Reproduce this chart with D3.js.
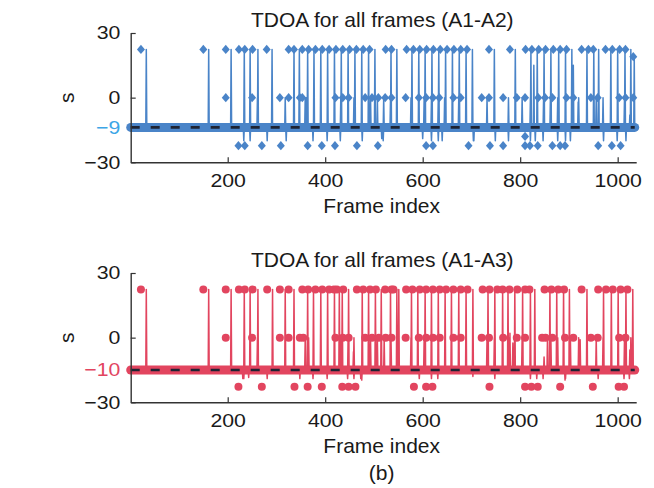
<!DOCTYPE html>
<html><head><meta charset="utf-8">
<script src="https://cdn.jsdelivr.net/npm/d3@7"></script>
<style>
body{margin:0;background:#fff}
svg{display:block}
text{font-family:"Liberation Sans",Arial,Helvetica,sans-serif;fill:#1a1a1a}
</style>
</head><body>
<svg id="chart" width="654" height="488"></svg>
<script>
// ---------------- data ----------------
const frameCount = 1035;
const xTicks = [200, 400, 600, 800, 1000];
const yTicks = [-30, 0, 30];
const xLabel = "Frame index";
const yLabel = "s";
const caption = "(b)";

// Panel A1-A2
const a12Title = "TDOA for all frames (A1-A2)";
const a12Base = -13.8;            // level of the dense band / dashed line
const a12BaseLabel = "\u22129";
const a12High = 22.4, a12Mid = 0, a12Low = -22.3;
const a12HighFrames = [22,150,196,223,235,251,280,325,336,353,366,380,394,408,422,436,450,464,478,491,524,536,567,581,594,608,622,636,650,664,678,691,736,779,811,824,838,852,868,882,895,926,940,950,975,989,1004,1016];
const a12MidFrames = [196,250,307,325,348,353,421,436,448,482,496,509,523,536,565,592,607,621,634,663,678,721,736,765,793,810,837,851,866,895,909,945,959,1003,1016,1032];
const a12LowFrames = [222,235,270,309,364,393,420,465,508,607,621,694,738,765,810,820,836,866,882,892,960,988,1006];
const a12OtherMarkers = [[1032,19],[810,-18]];
// thin trace spikes
const a12SpikeHighFrames = [33,161,207,234,246,262,291,336,347,364,377,391,405,419,433,447,461,475,489,502,535,547,578,592,605,619,633,647,661,675,689,702,747,790,822,835,849,863,879,893,906,937,951,961,986,1000,1015,1027];
const a12SpikeMidFrames = [207,261,318,336,359,364,432,447,459,493,507,520,534,547,576,603,618,632,645,674,689,732,747,776,804,821,848,862,877,906,920,956,970,1014,1027];
const a12SpikeLowFrames = [233,246,281,320,375,404,431,476,519,618,632,705,749,776,821,831,847,877,893,903,971,999,1017];
const a12SpikeLow = -20;
const a12OtherSpikes = [[347,17],[361,0],[516,-19],[600,-19],[640,-20],[704,-20],[776,-4],[828,15],[909,15],[919,-2],[961,0],[1025,-8],[1034,19]];

// Panel A1-A3
const a13Title = "TDOA for all frames (A1-A3)";
const a13Base = -15.0;
const a13BaseLabel = "\u221210";
const a13High = 22.4, a13Mid = 0, a13Low = -22.8;
const a13HighFrames = [22,150,196,223,235,251,281,307,325,353,365,380,394,408,418,424,437,465,478,492,504,523,536,540,566,579,594,607,621,635,648,663,678,692,723,737,753,764,778,794,810,819,850,864,878,890,926,960,976,990,1006,1020];
const a13MidFrames = [196,250,307,325,348,355,421,436,448,482,496,510,524,536,565,592,607,621,635,663,678,721,736,765,793,810,845,852,866,892,909,945,959,1003,1016];
const a13LowFrames = [222,270,337,364,393,435,448,462,582,607,620,737,810,823,836,882,949,1002,1013];
const a13OtherMarkers = [];
const a13SpikeHighFrames = [33,161,207,234,246,262,292,318,336,364,376,391,405,419,429,435,448,476,489,503,515,534,547,551,577,590,605,618,632,646,659,674,689,703,734,748,764,775,789,805,821,830,861,875,889,901,937,971,987,1001,1017,1031];
const a13SpikeMidFrames = [207,261,318,336,359,366,432,447,459,493,507,521,535,547,576,603,618,632,646,674,689,732,747,776,804,821,856,863,877,903,920,956,970,1014,1027];
const a13SpikeLowFrames = [233,281,348,375,404,446,459,473,593,618,631,748,821,834,847,893,960,1013,1024];
const a13SpikeLow = -19;
const a13OtherSpikes = [[231,-19],[243,-18.5],[458,-6.5],[475,-19.7],[703,-18],[779,2],[785,-2.5],[849,-9],[892,-19.7],[923,-1],[1015,-8],[1025,-5.7]];

// ---------------- drawing ----------------
const svg = d3.select("#chart");
const x = d3.scaleLinear().domain([1, 1038]).range([130.7, 636.2]);

function panel(cfg) {
  const g = svg.append("g").attr("transform", `translate(0,${cfg.dy})`);
  const y = d3.scaleLinear().domain([-30, 30]).range([162.3, 33]);

  const markers = []
    .concat(cfg.highFrames.map(f => [f, cfg.high]))
    .concat(cfg.midFrames.map(f => [f, cfg.mid]))
    .concat(cfg.lowFrames.map(f => [f, cfg.low]))
    .concat(cfg.otherMarkers);

  const spikes = []
    .concat(cfg.spikeHighFrames.map(f => [f, cfg.high]))
    .concat(cfg.spikeMidFrames.map(f => [f, cfg.mid]))
    .concat(cfg.spikeLowFrames.map(f => [f, cfg.spikeLow]))
    .concat(cfg.otherSpikes)
    .sort((a, b) => a[0] - b[0]);
  const trace = [[1, cfg.base]];
  spikes.forEach(([f, v]) => {
    trace.push([f - 1, cfg.base], [f, v], [Math.min(f + 1, frameCount), cfg.base]);
  });
  trace.push([frameCount, cfg.base]);

  const line = d3.line().x(d => x(d[0])).y(d => y(d[1]));
  g.append("path").datum(trace).attr("d", line)
    .attr("fill", "none").attr("stroke", cfg.color).attr("stroke-width", 1.5)
    .attr("stroke-linejoin", "round");

  // dense band of markers at the base level
  g.append("path").datum([[1, cfg.base], [frameCount, cfg.base]]).attr("d", line)
    .attr("stroke", cfg.color).attr("stroke-width", 9).attr("stroke-linecap", "round");

  if (cfg.shape === "diamond") {
    g.selectAll("path.mk").data(markers).join("path").attr("class", "mk")
      .attr("transform", d => `translate(${x(d[0])},${y(d[1])})`)
      .attr("d", "M0,-4.6L4,0L0,4.6L-4,0Z")
      .attr("fill", cfg.color);
  } else {
    g.selectAll("circle.mk").data(markers).join("circle").attr("class", "mk")
      .attr("cx", d => x(d[0])).attr("cy", d => y(d[1])).attr("r", 4)
      .attr("fill", cfg.color);
  }

  g.append("path").datum([[1, cfg.base], [frameCount, cfg.base]]).attr("d", line)
    .attr("stroke", "#1d2333").attr("stroke-width", 2.6).attr("stroke-dasharray", "9 11");

  const yTickVals = yTicks.concat([cfg.base]);
  const yAxis = d3.axisLeft(y).tickValues(yTickVals)
    .tickFormat(v => v === cfg.base ? cfg.baseLabel : (v < 0 ? "\u2212" + Math.abs(v) : String(v)))
    .tickSizeInner(-5).tickSizeOuter(0).tickPadding(9);
  const ya = g.append("g").attr("transform", "translate(130.7,0)").call(yAxis);
  const xAxis = d3.axisBottom(x).tickValues(xTicks).tickFormat(d => String(d))
    .tickSizeInner(-5).tickSizeOuter(0).tickPadding(11.5);
  const xa = g.append("g").attr("transform", "translate(0,162.3)").call(xAxis);
  [ya, xa].forEach(a => {
    a.select(".domain").attr("stroke", "#333").attr("stroke-width", 1.4);
    a.selectAll(".tick line").attr("stroke", "#333").attr("stroke-width", 1.2);
    a.selectAll(".tick text").attr("font-size", 18.5).attr("fill", "#1a1a1a")
      .attr("font-family", "Liberation Sans, Arial, sans-serif")
      .attr("transform", "scale(1.15,1)");
  });
  ya.selectAll(".tick").filter(d => d === cfg.base).select("line").remove();
  ya.selectAll(".tick").filter(d => d === cfg.base).select("text").attr("fill", cfg.labelColor).style("fill", cfg.labelColor);

  g.append("text").attr("x", 382.3).attr("y", 26.7).attr("text-anchor", "middle")
    .attr("font-size", 21).text(cfg.title);
  g.append("text").attr("x", 381.7).attr("y", 213.3).attr("text-anchor", "middle")
    .attr("font-size", 21).text(xLabel);
  g.append("text").attr("transform", "translate(74,97.7) rotate(-90)").attr("text-anchor", "middle")
    .attr("font-size", 21).text(yLabel);
}

panel({dy: 0, title: a12Title, base: a12Base, baseLabel: a12BaseLabel,
  high: a12High, mid: a12Mid, low: a12Low,
  highFrames: a12HighFrames, midFrames: a12MidFrames, lowFrames: a12LowFrames, otherMarkers: a12OtherMarkers,
  spikeHighFrames: a12SpikeHighFrames, spikeMidFrames: a12SpikeMidFrames, spikeLowFrames: a12SpikeLowFrames,
  spikeLow: a12SpikeLow, otherSpikes: a12OtherSpikes,
  color: "#4a84c8", labelColor: "#3da5e6", shape: "diamond"});

panel({dy: 240, title: a13Title, base: a13Base, baseLabel: a13BaseLabel,
  high: a13High, mid: a13Mid, low: a13Low,
  highFrames: a13HighFrames, midFrames: a13MidFrames, lowFrames: a13LowFrames, otherMarkers: a13OtherMarkers,
  spikeHighFrames: a13SpikeHighFrames, spikeMidFrames: a13SpikeMidFrames, spikeLowFrames: a13SpikeLowFrames,
  spikeLow: a13SpikeLow, otherSpikes: a13OtherSpikes,
  color: "#e2455f", labelColor: "#e2455f", shape: "circle"});

svg.append("text").attr("x", 381.7).attr("y", 480).attr("text-anchor", "middle")
  .attr("font-size", 21).text(caption);
</script>
</body></html>
